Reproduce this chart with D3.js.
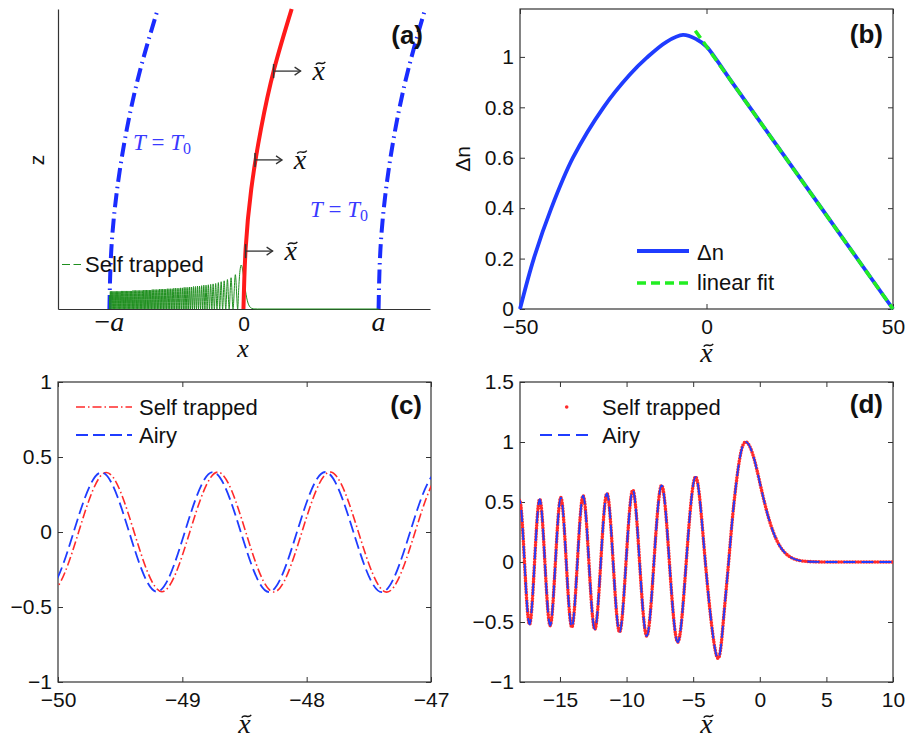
<!DOCTYPE html>
<html>
<head>
<meta charset="utf-8">
<script src="https://cdn.jsdelivr.net/npm/d3@7"></script>
<style>
  body { margin: 0; background: #fff; }
</style>
</head>
<body>
<svg id="fig" width="906" height="738"></svg>
<script>
// ---------- panel (a): schematic of the self-trapped beam ----------
// heights z (normalised) at which the trajectories are sampled
const trajZ = [0, 0.2, 0.4, 0.6, 0.8, 1.0];
// red beam centre x̃(z)
const beamX = [-0.2, 0.6, 2.7, 6.3, 11.2, 17.7];
// T = T0 isotherms (left one starts at -a, right one at a)
const leftIsoX = [-50, -49.28, -47.12, -43.52, -38.48, -32.0];
const rightIsoX = [50, 50.69, 52.77, 56.23, 61.07, 67.3];
// arrows marking the local transverse coordinate x̃
const arrowZ = [0.193, 0.497, 0.793];
const arrowX = [0.6, 4.1, 11.0];
// |Ai| profile of the self-trapped beam: zeros (as -x̃) and lobe heights
const airyZeros = [2.338, 4.088, 5.521, 6.787, 7.944, 9.023, 10.040, 11.009, 11.936, 12.829,
  13.692, 14.528, 15.341, 16.133, 16.906, 17.661, 18.401, 19.126, 19.836, 20.533,
  21.221, 21.897, 22.563, 23.220, 23.868, 24.507, 25.137, 25.760, 26.375, 26.983,
  27.585, 28.180, 28.769, 29.352, 29.929, 30.500, 31.066, 31.627, 32.183, 32.734,
  33.281, 33.823, 34.361, 34.895, 35.425, 35.951, 36.473, 36.991, 37.506, 38.017,
  38.525, 39.030, 39.531, 40.029, 40.524, 41.016, 41.505, 41.991, 42.474, 42.955,
  43.433, 43.908, 44.381, 44.851, 45.319, 45.785, 46.248, 46.709, 47.168, 47.624,
  48.078, 48.530, 48.980, 49.428, 49.874];
const lobeHeights = [0.78, 0.71, 0.67, 0.64, 0.62, 0.60, 0.58, 0.57, 0.56, 0.55,
  0.54, 0.54, 0.53, 0.52, 0.52, 0.51, 0.51, 0.50, 0.50, 0.49,
  0.49, 0.49, 0.48, 0.48, 0.47, 0.47, 0.47, 0.47, 0.46, 0.46,
  0.46, 0.46, 0.45, 0.45, 0.45, 0.45, 0.45, 0.44, 0.44, 0.44,
  0.44, 0.44, 0.43, 0.43, 0.43, 0.43, 0.43, 0.43, 0.42, 0.42,
  0.42, 0.42, 0.42, 0.42, 0.42, 0.42, 0.41, 0.41, 0.41, 0.41,
  0.41, 0.41, 0.41, 0.41, 0.41, 0.40, 0.40, 0.40, 0.40, 0.40,
  0.40, 0.40, 0.40, 0.40];
const edgeValue = 0.30;            // |Ai| at x̃ = -50
const mainLobeX = [-2.0, -1.5, -1.019, -0.5, 0, 0.5, 1, 1.5, 2, 2.5, 3, 4, 5, 50];
const mainLobeY = [0.424, 0.867, 1.0, 0.888, 0.663, 0.432, 0.253, 0.134, 0.065, 0.029, 0.012, 0.002, 0, 0];
const aTickX = [-50, 0, 50];

// ---------- panel (b): index change ----------
const dnX = [-50, -46.3, -41.6, -35.8, -27.6, -20.6, -16, -10.7, -6.3, -2.7, 0, 2.7, 6.25, 20, 35, 50];
const dnY = [0, 0.2, 0.4, 0.6, 0.8, 0.929, 0.997, 1.060, 1.087, 1.070, 1.041, 0.988, 0.912, 0.625, 0.313, 0];
const fitX = [-3, 50];
const fitY = [1.104, 0];
const bTicksX = [-50, 0, 50];
const bTicksY = [0, 0.2, 0.4, 0.6, 0.8, 1];

// ---------- panel (c): far tail of the profile ----------
const cAiryX = [-50.32, -50.097, -49.874, -49.651, -49.428, -49.204, -48.980, -48.755, -48.530,
  -48.304, -48.078, -47.851, -47.624, -47.396, -47.168, -46.939, -46.709];
const cAiryY = [0, -0.396, 0, 0.397, 0, -0.398, 0, 0.399, 0, -0.400, 0, 0.400, 0, -0.401, 0, 0.402, 0];
const cSelfX = [-50.28, -50.057, -49.834, -49.611, -49.388, -49.164, -48.940, -48.715, -48.490,
  -48.264, -48.038, -47.811, -47.584, -47.356, -47.128, -46.899, -46.669];
const cSelfY = [0, -0.396, 0, 0.397, 0, -0.398, 0, 0.399, 0, -0.400, 0, 0.400, 0, -0.401, 0, 0.402, 0];
const cTicksX = [-50, -49, -48, -47];
const cTicksY = [-1, -0.5, 0, 0.5, 1];

// ---------- panel (d): main lobes ----------
const dX = [-18.401, -18.03, -17.661, -17.285, -16.906, -16.520, -16.133, -15.738, -15.341, -14.936,
  -14.528, -14.112, -13.692, -13.262, -12.829, -12.385, -11.936, -11.475, -11.009, -10.528,
  -10.040, -9.535, -9.023, -8.488, -7.944, -7.372, -6.787, -6.163, -5.521, -4.820,
  -4.088, -3.248, -2.75, -2.338, -2.0, -1.5, -1.019, -0.5, 0, 0.5,
  1, 1.5, 2, 2.5, 3, 3.5, 4, 5, 6, 7, 8, 9, 10];
const dAiry = [0, 0.514, 0, -0.519, 0, 0.524, 0, -0.530, 0, 0.537,
  0, -0.544, 0, 0.552, 0, -0.561, 0, 0.572, 0, -0.584,
  0, 0.599, 0, -0.617, 0, 0.639, 0, -0.668, 0, 0.710,
  0, -0.782, -0.51, 0, 0.424, 0.867, 1.0, 0.888, 0.663, 0.432,
  0.253, 0.134, 0.065, 0.029, 0.012, 0.005, 0.002, 0, 0, 0, 0, 0, 0];
// the self-trapped profile coincides with the Airy one on this scale
const dSelf = dAiry;
const dTicksX = [-15, -10, -5, 0, 5, 10];
const dTicksY = [-1, -0.5, 0, 0.5, 1, 1.5];

// ---------- drawing ----------
const svg = d3.select('#fig');
const SANS = '"Liberation Sans", Arial, sans-serif';
const SERIF = '"Liberation Serif", "Times New Roman", serif';
const AXIS = '#333';
const BLUE = '#1f3cff';
const RED = '#ff2a2a';

const zip = (xs, ys) => xs.map((x, i) => [x, ys[i]]);

// italic x, optionally with a tilde accent drawn as a small wave
function mathX(g, cx, base, size, tilde, color) {
  const c = color || '#111';
  g.append('text').attr('x', cx).attr('y', base).attr('text-anchor', 'middle')
    .attr('font-family', SERIF).attr('font-style', 'italic').attr('font-size', size)
    .attr('fill', c).text('x');
  if (tilde) {
    const tx = cx + size * 0.07, ty = base - size * 0.6, w = size * 0.34, a = size * 0.05;
    g.append('path')
      .attr('d', `M${tx - w / 2},${ty + a}C${tx - w / 6},${ty - 2.2 * a} ${tx + w / 6},${ty + 2.2 * a} ${tx + w / 2},${ty - a}`)
      .attr('fill', 'none').attr('stroke', c).attr('stroke-width', size * 0.05);
  }
}

function panelLabel(text, xr, base) {
  svg.append('text').attr('x', xr).attr('y', base).attr('text-anchor', 'end')
    .attr('font-family', SANS).attr('font-weight', 'bold').attr('font-size', 26)
    .attr('fill', '#111').text(text);
}

function legendText(g, x, base, text) {
  g.append('text').attr('x', x).attr('y', base).attr('font-family', SANS)
    .attr('font-size', 22).attr('fill', '#111').text(text);
}

function boxPanel(x, y, xt, yt) {
  const g = svg.append('g');
  const [x0, x1] = x.range(), [y0, y1] = y.range();
  const put = (gen, tx, ty) => {
    const a = g.append('g').attr('transform', `translate(${tx},${ty})`).call(gen);
    a.select('.domain').remove();
    a.attr('color', AXIS);
    a.selectAll('line').attr('stroke-width', 1);
    a.selectAll('text').attr('font-family', SANS).attr('font-size', 21).attr('fill', '#111');
  };
  const fmt = d3.format('~g'), none = () => '';
  put(d3.axisBottom(x).tickValues(xt).tickFormat(fmt).tickSizeInner(-5).tickSizeOuter(0).tickPadding(10.5), 0, y0);
  put(d3.axisTop(x).tickValues(xt).tickFormat(none).tickSizeInner(-5).tickSizeOuter(0), 0, y1);
  put(d3.axisLeft(y).tickValues(yt).tickFormat(fmt).tickSizeInner(-5).tickSizeOuter(0).tickPadding(6), x0, 0);
  put(d3.axisRight(y).tickValues(yt).tickFormat(none).tickSizeInner(-5).tickSizeOuter(0), x1, 0);
  g.append('rect').attr('x', x0).attr('y', y1).attr('width', x1 - x0).attr('height', y0 - y1)
    .attr('fill', 'none').attr('stroke', AXIS).attr('stroke-width', 1.2);
  return g;
}

function clipFor(id, x, y) {
  const [x0, x1] = x.range(), [y0, y1] = y.range();
  svg.append('clipPath').attr('id', id).append('rect')
    .attr('x', x0).attr('y', y1).attr('width', x1 - x0).attr('height', y0 - y1);
  return `url(#${id})`;
}

// ===== (a) =====
{
  const x = d3.scaleLinear([-69.1, 69.1], [58, 430]);
  const z = d3.scaleLinear([0, 1], [309, 9]);
  const amp = d3.scaleLinear([0, 1], [309, 265]);
  const g = svg.append('g');

  const ax1 = g.append('g').attr('transform', 'translate(0,309)')
    .call(d3.axisBottom(x).tickValues([]).tickSizeOuter(0));
  const ax2 = g.append('g').attr('transform', 'translate(58,0)')
    .call(d3.axisLeft(z).tickValues([]).tickSizeOuter(0));
  [ax1, ax2].forEach(a => a.select('.domain').attr('stroke', AXIS).attr('stroke-width', 1.2));

  const traj = d3.line().x(d => x(d[0])).y(d => z(d[1])).curve(d3.curveNatural);
  [leftIsoX, rightIsoX].forEach(xs => {
    g.append('path').attr('d', traj(zip(xs, trajZ))).attr('fill', 'none')
      .attr('stroke', '#1a2cff').attr('stroke-width', 4).attr('stroke-dasharray', '14 5 1.5 5');
  });

  // green |Ai| profile along the bottom
  const pts = [[-50, edgeValue]];
  for (let k = airyZeros.length - 1; k >= 0; k--) {
    pts.push([-airyZeros[k], 0]);
    if (k > 0) pts.push([-(airyZeros[k] + airyZeros[k - 1]) / 2, lobeHeights[k - 1]]);
  }
  mainLobeX.forEach((v, i) => pts.push([v, mainLobeY[i]]));
  g.append('path')
    .attr('d', d3.line().x(d => x(d[0])).y(d => amp(d[1])).curve(d3.curveMonotoneX)(pts))
    .attr('fill', 'none').attr('stroke', '#1f8f1f').attr('stroke-width', 1);

  g.append('path').attr('d', traj(zip(beamX, trajZ))).attr('fill', 'none')
    .attr('stroke', '#ff1a1a').attr('stroke-width', 4);

  arrowZ.forEach((zz, i) => {
    const px = x(arrowX[i]), py = z(zz), L = 27;
    g.append('line').attr('x1', px).attr('x2', px).attr('y1', py - 7).attr('y2', py + 7)
      .attr('stroke', '#333').attr('stroke-width', 1.5);
    g.append('line').attr('x1', px).attr('x2', px + L).attr('y1', py).attr('y2', py)
      .attr('stroke', '#333').attr('stroke-width', 1.3);
    g.append('path').attr('d', `M${px + L - 6},${py - 4}L${px + L},${py}L${px + L - 6},${py + 4}`)
      .attr('fill', 'none').attr('stroke', '#333').attr('stroke-width', 1.3);
    mathX(g, px + L + 18, py + 9, 28, true);
  });

  // T = T0 labels
  [[133, 149.5], [310, 216.7]].forEach(([tx, ty]) => {
    const t = g.append('text').attr('x', tx).attr('y', ty).attr('font-family', SERIF)
      .attr('font-size', 23).attr('fill', '#3a3aff');
    t.append('tspan').attr('font-style', 'italic').text('T');
    t.append('tspan').text(' = ');
    t.append('tspan').attr('font-style', 'italic').text('T');
    t.append('tspan').attr('font-size', 16).attr('dy', 4).text('0');
  });

  // legend
  g.append('line').attr('x1', 62).attr('x2', 81).attr('y1', 264.5).attr('y2', 264.5)
    .attr('stroke', '#1f8f1f').attr('stroke-width', 1.2).attr('stroke-dasharray', '8 3.5');
  legendText(g, 85, 271.7, 'Self trapped');

  // tick labels -a, 0, a
  const labs = ['\u2212a', '0', 'a'];
  aTickX.forEach((v, i) => {
    const t = g.append('text').attr('x', x(v)).attr('y', 331).attr('text-anchor', 'middle').attr('fill', '#111');
    if (labs[i] === '0') {
      t.attr('font-family', SANS).attr('font-size', 21).text('0');
    } else {
      t.attr('font-family', SERIF).attr('font-size', 28);
      if (labs[i].length > 1) t.append('tspan').text('\u2212');
      t.append('tspan').attr('font-style', 'italic').text('a');
    }
  });
  mathX(g, 243, 357, 26, false);
  g.append('text').attr('transform', 'translate(37,160) rotate(-90)').attr('text-anchor', 'middle')
    .attr('dy', '0.35em').attr('font-family', SANS).attr('font-size', 21).attr('fill', '#111').text('z');
  panelLabel('(a)', 423, 43.5);
}

// ===== (b) =====
{
  const x = d3.scaleLinear([-50, 50], [520, 893]);
  const y = d3.scaleLinear([0, 1.19], [309, 9]);
  const g = boxPanel(x, y, bTicksX, bTicksY);
  const line = d3.line().x(d => x(d[0])).y(d => y(d[1]));
  g.append('path').attr('d', line.curve(d3.curveCatmullRom.alpha(0.5))(zip(dnX, dnY))).attr('fill', 'none')
    .attr('stroke', BLUE).attr('stroke-width', 3.8);
  g.append('path').attr('d', d3.line().x(d => x(d[0])).y(d => y(d[1]))(zip(fitX, fitY)))
    .attr('fill', 'none').attr('stroke', '#22ee22').attr('stroke-width', 3.5).attr('stroke-dasharray', '9 5');
  g.append('line').attr('x1', 637).attr('x2', 689).attr('y1', 251).attr('y2', 251)
    .attr('stroke', BLUE).attr('stroke-width', 3.8);
  g.append('line').attr('x1', 637).attr('x2', 689).attr('y1', 283).attr('y2', 283)
    .attr('stroke', '#22ee22').attr('stroke-width', 3.5).attr('stroke-dasharray', '9 5');
  legendText(g, 697, 260, '\u0394n');
  legendText(g, 697, 290, 'linear fit');
  mathX(g, 706.5, 362, 28, true);
  g.append('text').attr('transform', 'translate(463,159) rotate(-90)').attr('text-anchor', 'middle')
    .attr('dy', '0.35em').attr('font-family', SANS).attr('font-size', 21).attr('fill', '#111').text('\u0394n');
  panelLabel('(b)', 883, 42.5);
}

// ===== (c) =====
{
  const x = d3.scaleLinear([-50, -47], [58, 431]);
  const y = d3.scaleLinear([-1, 1], [682, 382]);
  const g = boxPanel(x, y, cTicksX, cTicksY);
  const clip = clipFor('clipC', x, y);
  const line = d3.line().x(d => x(d[0])).y(d => y(d[1])).curve(d3.curveNatural);
  g.append('path').attr('d', line(zip(cSelfX, cSelfY))).attr('clip-path', clip).attr('fill', 'none')
    .attr('stroke', RED).attr('stroke-width', 1.6).attr('stroke-dasharray', '9 3 1.5 3');
  g.append('path').attr('d', line(zip(cAiryX, cAiryY))).attr('clip-path', clip).attr('fill', 'none')
    .attr('stroke', BLUE).attr('stroke-width', 1.8).attr('stroke-dasharray', '12 5');
  g.append('line').attr('x1', 76).attr('x2', 132).attr('y1', 407).attr('y2', 407)
    .attr('stroke', RED).attr('stroke-width', 1.6).attr('stroke-dasharray', '9 3 1.5 3');
  g.append('line').attr('x1', 76).attr('x2', 132).attr('y1', 435).attr('y2', 435)
    .attr('stroke', BLUE).attr('stroke-width', 1.8).attr('stroke-dasharray', '12 5');
  legendText(g, 139, 415, 'Self trapped');
  legendText(g, 139, 443, 'Airy');
  mathX(g, 244.5, 733, 28, true);
  panelLabel('(c)', 422, 413.8);
}

// ===== (d) =====
{
  const x = d3.scaleLinear([-18, 10], [520, 893]);
  const y = d3.scaleLinear([-1, 1.5], [682, 382]);
  const g = boxPanel(x, y, dTicksX, dTicksY);
  const clip = clipFor('clipD', x, y);
  const line = d3.line().x(d => x(d[0])).y(d => y(d[1])).curve(d3.curveNatural);
  g.append('path').attr('d', line(zip(dX, dSelf))).attr('clip-path', clip).attr('fill', 'none')
    .attr('stroke', RED).attr('stroke-width', 3.6).attr('stroke-linecap', 'round')
    .attr('stroke-dasharray', '0 2.8');
  g.append('path').attr('d', line(zip(dX, dAiry))).attr('clip-path', clip).attr('fill', 'none')
    .attr('stroke', BLUE).attr('stroke-width', 1.8).attr('stroke-dasharray', '12 6');
  g.append('circle').attr('cx', 566.7).attr('cy', 407).attr('r', 1.8).attr('fill', RED);
  g.append('line').attr('x1', 540).attr('x2', 594).attr('y1', 435).attr('y2', 435)
    .attr('stroke', BLUE).attr('stroke-width', 1.8).attr('stroke-dasharray', '12 6');
  legendText(g, 602, 415, 'Self trapped');
  legendText(g, 602, 443, 'Airy');
  mathX(g, 706.5, 733, 28, true);
  panelLabel('(d)', 883, 412.5);
}
</script>
</body>
</html>
